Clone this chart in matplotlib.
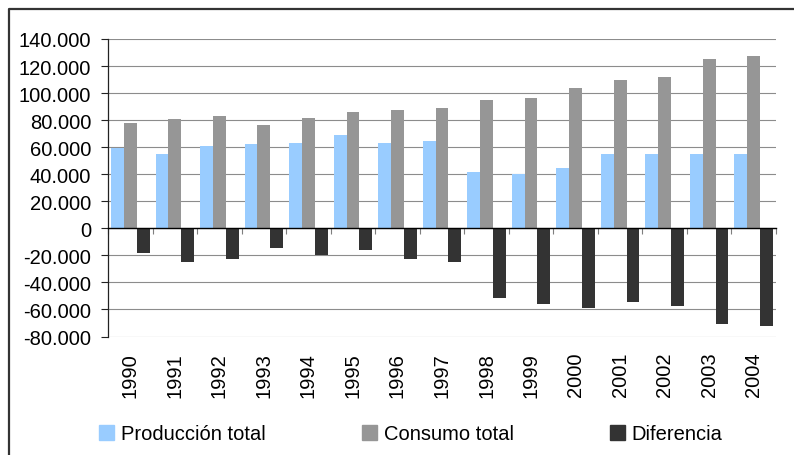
import matplotlib
matplotlib.use("Agg")
import matplotlib.pyplot as plt
from matplotlib.ticker import FuncFormatter, FixedLocator
from matplotlib.lines import Line2D
import numpy as np

plt.rcParams['font.family'] = ['Liberation Sans', 'DejaVu Sans']

years = ["1990", "1991", "1992", "1993", "1994", "1995", "1996", "1997",
         "1998", "1999", "2000", "2001", "2002", "2003", "2004"]
produccion = [59400, 55000, 60900, 62400, 63100, 69000, 63100, 64600,
              41600, 40200, 44600, 55000, 55000, 55000, 55000]
consumo = [77900, 80600, 83100, 76400, 81600, 86000, 87500, 89000,
           94900, 96400, 103800, 109700, 111900, 125200, 127400]
diferencia = [-18000, -24700, -22500, -14300, -19500, -15800, -22500, -24700,
              -51300, -55800, -58700, -54300, -57200, -70600, -72000]
series_names = ["Producción total", "Consumo total", "Diferencia"]
series_colors = ["#99CCFF", "#969696", "#333333"]

W, H = 794, 456
fig = plt.figure(figsize=(W / 100, H / 100), dpi=100)
ax = fig.add_axes([108 / W, 1 - 337.5 / H, (776 - 108) / W, (337.5 - 40) / H])

x = np.arange(len(years))
bw = 0.288
for i, (vals, name, col) in enumerate(zip([produccion, consumo, diferencia],
                                          series_names, series_colors)):
    ax.bar(x + (i - 1) * bw, vals, width=bw, color=col, label=name,
           zorder=3, linewidth=0)

ax.set_xlim(-0.5, len(years) - 0.5)
ax.set_ylim(-80000, 140000)
ax.set_yticks(np.arange(-80000, 140001, 20000))


def fmt(v, _):
    v = int(round(v))
    s = f"{abs(v):,}".replace(",", ".")
    return ("-" if v < 0 else "") + s


ax.yaxis.set_major_formatter(FuncFormatter(fmt))
ax.grid(axis='y', color='#8c8c8c', linewidth=0.8, zorder=0)
ax.tick_params(axis='y', direction='out', length=5, width=0.8,
               color='#222222', labelsize=14.5, pad=7, labelcolor='#000000')

for s in ['top', 'right']:
    ax.spines[s].set_visible(False)
ax.spines['left'].set_color('#222222')
ax.spines['left'].set_linewidth(0.9)

# Category axis drawn along the zero line, boundary ticks pointing down
ax.spines['bottom'].set_position(('data', 0))
ax.spines['bottom'].set_color('#000000')
ax.spines['bottom'].set_linewidth(1.0)
ax.spines['bottom'].set_zorder(4)
ax.xaxis.set_major_locator(FixedLocator(np.arange(-0.5, len(years), 1.0)))
ax.set_xticklabels([])
ax.tick_params(axis='x', direction='out', length=4, width=0.8, color='#7f7f7f')

# Year labels along the bottom of the plot area
sec = ax.secondary_xaxis('bottom')
sec.set_xticks(x)
sec.set_xticklabels(years, rotation=90, fontsize=14.5)
sec.tick_params(length=0, pad=11)
sec.spines['bottom'].set_visible(False)

handles = [plt.Rectangle((0, 0), 1, 1, color=c) for c in series_colors]
fig.legend(handles, series_names, loc='center', bbox_to_anchor=(411 / W, 1 - 435 / H),
           ncol=3, frameon=False, fontsize=14.5, handlelength=0.75,
           handleheight=0.75, handletextpad=0.35, columnspacing=4.75)

# Chart area border
fig.add_artist(Line2D([9 / W, 9 / W, 1.0], [0.0, 1 - 10 / H, 1 - 10 / H],
                      transform=fig.transFigure, color='#333333', linewidth=1.6))

fig.savefig("out.png", dpi=100)
